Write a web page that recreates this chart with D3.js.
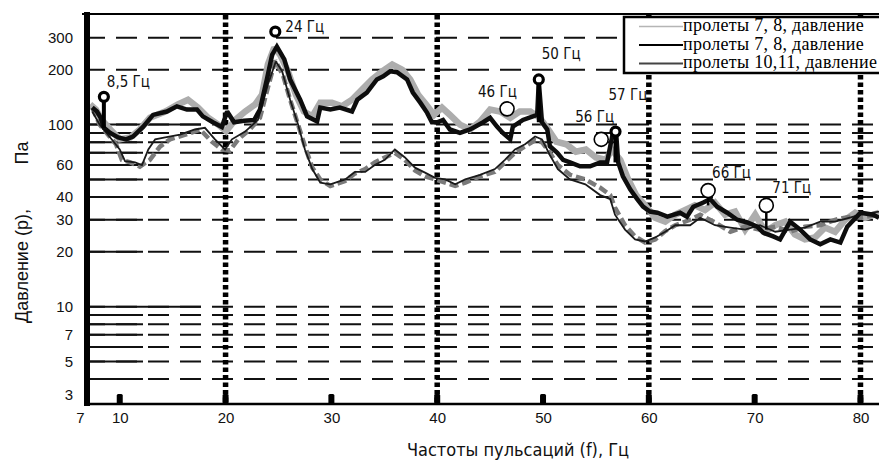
<!DOCTYPE html>
<html>
<head>
<meta charset="utf-8">
<script src="https://cdn.jsdelivr.net/npm/d3@7"></script>
<style>
    html, body { margin: 0; padding: 0; background: #fff; }
    svg { display: block; }
</style>
</head>
<body>
<div id="chart"></div>
<script>
// [frequency Hz, pressure Pa]
const spans78Grey = [[7.2,129],[7.75,121],[8.3,106],[9.1,94],[10.0,83],[11.0,85],[11.9,94],[12.85,109],[14.3,118],[15.5,129],[16.45,137],[17.4,124],[18.35,109],[19.3,100],[20.05,92],[20.9,106],[21.85,118],[22.8,129],[23.45,146],[24.0,214],[24.6,265],[25.15,242],[25.9,196],[26.65,146],[27.4,118],[28.2,111],[28.95,132],[30.05,132],[31.0,126],[31.95,137],[32.9,156],[33.85,177],[34.8,196],[35.75,214],[36.7,200],[37.45,177],[38.2,146],[38.95,129],[39.7,113],[40.45,124],[41.2,113],[42.15,100],[43.1,94],[44.05,104],[45.0,121],[45.95,118],[46.9,109],[47.8,118],[48.8,118],[49.7,109],[50.5,94],[51.25,80.6],[52.2,78],[53.1,71],[54.05,73],[55.0,66],[55.95,64],[56.5,73],[57.3,64],[58.05,50],[58.8,41],[59.65,36],[60.6,30.8],[61.55,29.3],[62.5,32],[63.45,34],[64.35,36],[65.3,34],[66.25,37.3],[67.2,32],[68.15,33.3],[69.1,26.5],[70.05,32],[71.0,25.8],[71.95,28],[72.9,29.3],[73.8,24.9],[74.75,23.4],[75.7,24],[76.65,27.2],[77.6,25.8],[78.55,30],[79.5,32.8],[80.45,30.8],[81.75,32.8]];

const spans78Black = [[7.4,124],[7.85,118],[8.2,109],[8.5,96],[9.1,90],[9.85,85],[10.6,83],[11.25,86],[12.2,97],[13.15,113],[14.45,118],[15.4,126],[16.35,121],[17.3,121],[17.85,111],[18.8,103],[19.65,97],[20.15,118],[20.8,103],[21.75,105],[22.7,106],[23.25,121],[23.9,177],[24.4,242],[24.85,268],[25.55,228],[26.1,177],[27.05,137],[27.7,111],[28.65,104],[28.95,124],[29.9,121],[30.8,124],[31.95,118],[32.45,137],[33.35,150],[34.3,177],[34.9,184],[35.55,196],[36.2,194],[37.15,177],[37.7,150],[38.4,132],[39.05,116],[39.5,103],[40.0,103],[40.55,106],[41.2,94],[42.15,90],[43.1,94],[44.35,103],[45.0,109],[45.65,97.5],[46.2,90],[46.9,83],[47.15,97.5],[48.1,106],[49.05,111],[49.45,113],[49.6,172],[49.9,103],[50.4,94],[50.65,76],[51.35,70],[51.9,64],[52.55,62],[53.5,59],[54.45,59],[55.4,62],[56.05,62],[56.6,90],[56.9,92],[57.1,62],[57.55,52],[58.25,44],[58.9,39],[59.45,35.4],[60.1,33.3],[60.8,32.8],[61.75,31.2],[62.95,32.8],[63.6,31.2],[64.2,35.4],[65.15,37.3],[65.8,39],[66.45,35.4],[67.4,32.8],[68.35,30],[69.3,29],[70.25,27.5],[70.8,25.5],[71.75,24.3],[72.4,23.4],[73.35,29.3],[74.3,26.5],[75.25,23.4],[76.2,22],[77.15,23.4],[78.1,22.5],[78.75,27.5],[80.0,32.8],[81.2,32],[81.75,30.8]];

const spans1011 = [[7.4,118],[8.1,100],[9.1,85],[10.0,73],[10.5,63],[11.45,62],[12.1,60],[12.7,73],[13.35,83],[14.3,85],[15.7,88],[17.1,94],[18.05,96],[19.0,83],[19.95,73],[20.6,83],[21.85,91.5],[23.05,106],[24.0,166],[24.75,222],[25.35,196],[26.1,137],[26.85,100],[27.5,73],[28.2,57],[28.95,48],[29.9,47],[31.3,50],[32.25,55],[33.2,55],[34.1,60],[35.05,64],[36.0,73],[36.95,66],[37.9,58],[38.85,54.5],[39.8,51],[40.75,50],[41.7,47],[42.65,50],[44.05,53],[45.45,57],[46.4,64],[47.35,73],[48.3,78],[49.25,86],[49.9,83],[50.65,68],[51.4,57],[52.55,50],[54.0,47],[55.4,41],[56.35,39],[56.8,32],[57.75,26.5],[58.7,23.4],[59.65,22.8],[60.6,24],[61.55,25.8],[62.5,28],[63.9,28],[64.85,30.8],[66.25,28],[67.7,27.2],[69.1,26.5],[70.5,28],[71.95,25.8],[73.35,26.5],[74.75,27.2],[76.2,29.3],[77.6,29.3],[79.0,30.8],[80.0,32],[81.75,33.3]];

const spans1011Grey = [[7.4,124],[8.1,100],[8.9,88],[9.65,78],[10.2,64],[11.0,62],[11.9,58.8],[12.85,64],[13.8,75.7],[14.75,83],[16.2,88],[17.6,94],[18.7,80.6],[19.65,73],[20.4,72],[21.2,83],[22.3,94],[23.25,109],[24.0,160],[24.7,225],[25.45,185],[26.1,137],[26.85,100],[27.5,76],[28.2,58],[28.95,50],[29.9,46],[31.3,49],[32.25,54],[33.2,57],[34.1,62],[35.05,66],[36.0,70],[36.95,64],[37.9,56],[38.85,52],[39.8,50],[40.75,48],[41.7,46],[42.65,48],[44.05,52],[45.45,55],[46.4,62],[47.35,70],[48.3,76],[49.25,82],[49.9,80],[50.65,70],[51.4,60],[52.55,53],[54.0,50],[55.4,45],[56.35,41],[56.8,35],[57.75,28],[58.7,24.3],[59.65,22.5],[60.6,23.4],[61.55,26],[62.5,28],[63.9,30],[64.85,32],[66.25,29],[67.7,25.8],[69.1,27.5],[70.5,26.5],[71.95,27.5],[73.35,25.8],[74.75,27.5],[76.2,28],[77.6,30],[79.0,31.2],[80.0,30.8],[81.75,32]];

// marked peaks: label, frequency, pressure of the ring, pressure the stem runs down to
const peaks = [
    { label: '8,5 Гц', f: 8.5, p: 142, stem: 96, bold: true },
    { label: '24 Гц', f: 24.7, p: 324, stem: null, bold: true },
    { label: '46 Гц', f: 46.6, p: 122, stem: null, bold: false },
    { label: '50 Гц', f: 49.6, p: 177, stem: 103, bold: true },
    { label: '56 Гц', f: 55.5, p: 83, stem: null, bold: false },
    { label: '57 Гц', f: 56.85, p: 91.5, stem: 62, bold: true },
    { label: '66 Гц', f: 65.6, p: 43.4, stem: 36, bold: false },
    { label: '71 Гц', f: 71.1, p: 36, stem: 26.5, bold: false }
];

const xLabels = [7, 10, 20, 30, 40, 50, 60, 70, 80];
const xMarks = [10, 20, 30, 40, 50, 60, 70, 80];
const xDotted = [20, 40, 60, 80];
const yLabels = [300, 200, 100, 60, 40, 30, 20, 10, 7, 5, 3];
const yGrid = [300, 200, 100, 90, 80, 70, 60, 50, 40, 30, 20, 10, 9, 8, 7, 6, 5, 4];

const legendLabels = ['пролеты 7, 8, давление', 'пролеты 7, 8, давление', 'пролеты 10,11, давление'];

const SANS = '"Liberation Sans", Arial, sans-serif';
const NARROW = '"Liberation Sans Narrow", "DejaVu Sans Condensed", sans-serif';
const SERIF = '"Liberation Serif", "Times New Roman", serif';

class PressureChart {
    constructor(target, width, height) {
        this._width = width;
        this._height = height;

        this._svg = d3.select(target).append('svg')
            .attr('width', width)
            .attr('height', height);

        this._x = d3.scaleLinear().domain([7, 81.75]).range([88, 879]);
        this._y = d3.scaleLog().domain([2.92, 405]).range([404, 14]);
    }

    drawGrid() {
        const y = this._y;
        const g = this._svg.append('g').attr('class', 'grid');

        g.selectAll('line.dash')
            .data(yGrid)
            .join('line')
            .attr('class', 'dash')
            .attr('x1', 84).attr('x2', this._width)
            .attr('y1', d => y(d)).attr('y2', d => y(d))
            .attr('stroke', '#111')
            .attr('stroke-width', 2)
            .attr('stroke-dasharray', '21,11');

        // the scan has the first part of most lines solid
        g.selectAll('line.lead')
            .data(yGrid.filter(d => d < 200))
            .join('line')
            .attr('class', 'lead')
            .attr('x1', 88)
            .attr('x2', d => (d === 100 || d === 10) ? 201 : 143)
            .attr('y1', d => y(d)).attr('y2', d => y(d))
            .attr('stroke', '#111')
            .attr('stroke-width', 2);

        g.selectAll('line.dotted')
            .data(xDotted)
            .join('line')
            .attr('class', 'dotted')
            .attr('x1', d => this._x(d)).attr('x2', d => this._x(d))
            .attr('y1', 15).attr('y2', 404)
            .attr('stroke', '#000')
            .attr('stroke-width', 5.5)
            .attr('stroke-dasharray', '4.5,3');
    }

    drawAxes() {
        const svg = this._svg;

        svg.append('line')
            .attr('x1', 82).attr('x2', this._width)
            .attr('y1', 14).attr('y2', 14)
            .attr('stroke', '#000').attr('stroke-width', 2);

        svg.append('line')
            .attr('x1', 87).attr('x2', this._width)
            .attr('y1', 404).attr('y2', 404)
            .attr('stroke', '#000').attr('stroke-width', 2.5);

        svg.append('line')
            .attr('x1', 87).attr('x2', 87)
            .attr('y1', 12).attr('y2', 406)
            .attr('stroke', '#000').attr('stroke-width', 6);

        svg.append('g').selectAll('rect')
            .data(xMarks)
            .join('rect')
            .attr('x', d => this._x(d) - 3)
            .attr('y', 394)
            .attr('width', 6).attr('height', 10)
            .attr('rx', 1.5)
            .attr('fill', '#000');

        const xAxis = svg.append('g')
            .attr('transform', 'translate(0, 404)')
            .call(d3.axisBottom(this._x).tickValues(xLabels).tickSize(0).tickPadding(8));
        xAxis.select('.domain').remove();
        xAxis.selectAll('text')
            .attr('font-family', SANS)
            .attr('font-size', 15)
            .attr('fill', '#111')
            .attr('dx', d => d === 7 ? -8 : 0);

        const yAxis = svg.append('g')
            .attr('transform', 'translate(88, 0)')
            .call(d3.axisLeft(this._y).tickValues(yLabels).tickFormat(d3.format('d')).tickSize(0).tickPadding(15));
        yAxis.select('.domain').remove();
        yAxis.selectAll('text')
            .attr('font-family', SANS)
            .attr('font-size', 15)
            .attr('fill', '#111')
            .attr('y', d => d === 3 ? -7 : 0);

        svg.append('text')
            .attr('x', 518).attr('y', 456)
            .attr('text-anchor', 'middle')
            .attr('font-family', NARROW)
            .attr('font-size', 18)
            .attr('fill', '#111')
            .text('Частоты пульсаций (f), Гц');

        svg.append('text')
            .attr('transform', 'translate(28, 266) rotate(-90)')
            .attr('text-anchor', 'middle')
            .attr('font-family', SANS)
            .attr('font-size', 18)
            .attr('fill', '#111')
            .text('Давление (р),');

        svg.append('text')
            .attr('transform', 'translate(28, 153) rotate(-90)')
            .attr('text-anchor', 'middle')
            .attr('font-family', SANS)
            .attr('font-size', 18)
            .attr('fill', '#111')
            .text('Па');
    }

    drawSeries() {
        const line = d3.line()
            .x(d => this._x(d[0]))
            .y(d => this._y(d[1]));

        const series = [
            { data: spans78Grey, stroke: '#adadad', width: 6.5, dash: null },
            { data: spans1011Grey, stroke: '#7a7a7a', width: 4.5, dash: '9,4' },
            { data: spans1011, stroke: '#1a1a1a', width: 1.8, dash: null },
            { data: spans78Black, stroke: '#0d0d0d', width: 4.5, dash: null }
        ];

        this._svg.append('g').attr('class', 'series')
            .selectAll('path')
            .data(series)
            .join('path')
            .attr('d', d => line(d.data))
            .attr('fill', 'none')
            .attr('stroke', d => d.stroke)
            .attr('stroke-width', d => d.width)
            .attr('stroke-dasharray', d => d.dash)
            .attr('stroke-linejoin', 'miter')
            .attr('stroke-miterlimit', 2);
    }

    drawPeaks() {
        const x = this._x, y = this._y;
        // label offset from the ring centre, px
        const offsets = {
            '8,5 Гц': [3, -10], '24 Гц': [10, 0], '46 Гц': [-29, -12], '50 Гц': [3, -20],
            '56 Гц': [-26, -17], '57 Гц': [-7, -32], '66 Гц': [4, -13], '71 Гц': [6, -12]
        };
        const g = this._svg.append('g').attr('class', 'peaks');

        g.selectAll('line')
            .data(peaks.filter(d => d.stem !== null))
            .join('line')
            .attr('x1', d => x(d.f)).attr('x2', d => x(d.f))
            .attr('y1', d => y(d.p)).attr('y2', d => y(d.stem))
            .attr('stroke', '#000')
            .attr('stroke-width', d => d.bold ? 4 : 2.5);

        g.selectAll('circle')
            .data(peaks)
            .join('circle')
            .attr('cx', d => x(d.f)).attr('cy', d => y(d.p))
            .attr('r', d => d.bold ? 4.5 : 7)
            .attr('fill', '#fff')
            .attr('stroke', '#000')
            .attr('stroke-width', d => d.bold ? 3.2 : 1.6);

        g.selectAll('text')
            .data(peaks)
            .join('text')
            .attr('x', d => x(d.f) + offsets[d.label][0])
            .attr('y', d => y(d.p) + offsets[d.label][1])
            .attr('font-family', NARROW)
            .attr('font-size', 15)
            .attr('fill', '#111')
            .text(d => d.label);
    }

    drawLegend() {
        const g = this._svg.append('g').attr('class', 'legend');
        const styles = [
            { stroke: '#b5b5b5', width: 1.3 },
            { stroke: '#000', width: 2 },
            { stroke: '#444', width: 1.8 }
        ];

        g.append('rect')
            .attr('x', 624).attr('y', 17)
            .attr('width', 270).attr('height', 56)
            .attr('fill', '#fff')
            .attr('stroke', '#000')
            .attr('stroke-width', 2.5);

        const rows = g.selectAll('g.row')
            .data(legendLabels)
            .join('g')
            .attr('class', 'row')
            .attr('transform', (d, i) => `translate(0, ${31 + i * 18.5})`);

        rows.append('line')
            .attr('x1', 639).attr('x2', 683)
            .attr('y1', -4.5).attr('y2', -4.5)
            .attr('stroke', (d, i) => styles[i].stroke)
            .attr('stroke-width', (d, i) => styles[i].width);

        rows.append('text')
            .attr('x', 683)
            .attr('font-family', SERIF)
            .attr('font-size', 18)
            .attr('letter-spacing', 0.3)
            .attr('fill', '#000')
            .text(d => d);
    }

    render() {
        this.drawGrid();
        this.drawSeries();
        this.drawAxes();
        this.drawPeaks();
        this.drawLegend();
    }
}

const chart = new PressureChart('#chart', 879, 463);
chart.render();
</script>
</body>
</html>
